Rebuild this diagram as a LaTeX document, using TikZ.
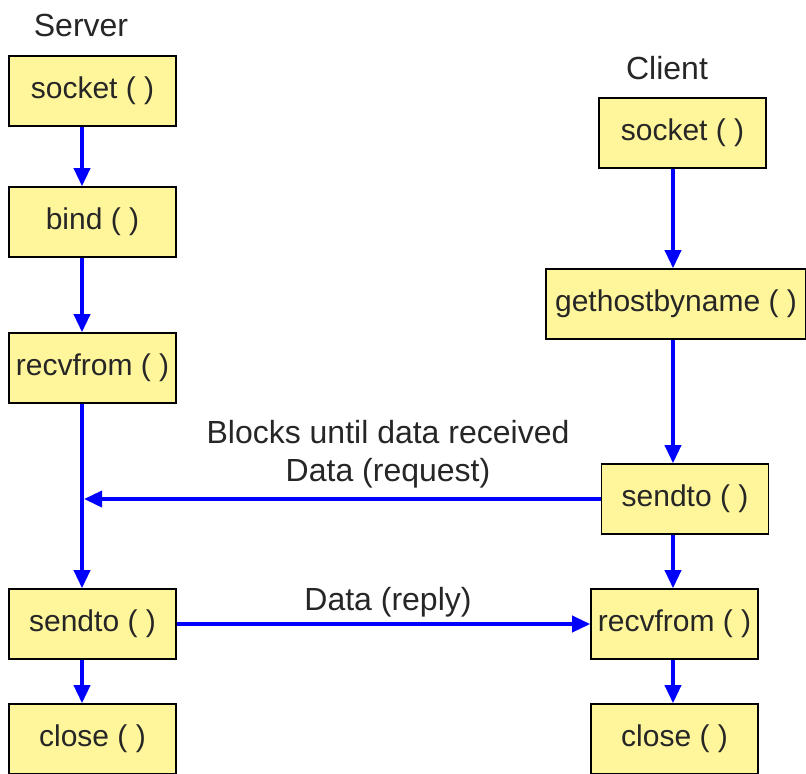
\documentclass[tikz,border=0pt]{standalone}
\usepackage{fontspec}
\setmainfont{Liberation Sans}
\usetikzlibrary{arrows.meta}
\definecolor{boxyellow}{RGB}{255,246,155}
\definecolor{flowblue}{RGB}{0,0,255}
\begin{document}
\begin{tikzpicture}[x=0.5pt,y=-0.5pt,
    call/.style={draw=black,line width=0.8pt,fill=boxyellow,minimum width=83.5pt,
      minimum height=35pt,inner sep=0pt,font=\fontsize{15}{18}\selectfont,text=black!85},
    flow/.style={draw=flowblue,line width=1.8pt,-{Triangle[length=9pt,width=8pt]}},
    lbl/.style={font=\fontsize{16}{19}\selectfont,text=black!85}]
  \useasboundingbox (0,0) rectangle (806,773);
  % server side
  \node[lbl] (server) at (81,25) {Server};
  \node[call] (ssocket) at (92.5,91) {socket ( )};
  \node[call] (sbind) at (92.5,222) {bind ( )};
  \node[call] (srecv) at (92.5,368) {recvfrom ( )};
  \node[call] (ssend) at (92.5,624) {sendto ( )};
  \node[call] (sclose) at (92.5,739) {close ( )};
  % client side
  \node[lbl] (client) at (667,68) {Client};
  \node[call] (csocket) at (682.5,133) {socket ( )};
  \node[call,minimum width=130pt] (cname) at (676,304) {gethostbyname ( )};
  \node[call] (csend) at (685,499) {sendto ( )};
  \node[call] (crecv) at (674.5,624) {recvfrom ( )};
  \node[call] (cclose) at (674.5,739) {close ( )};
  \coordinate (sx) at (82,0);
  \coordinate (cx) at (673,0);
  % flow down each side
  \draw[flow] (ssocket.south -| sx) -- (sbind.north -| sx);
  \draw[flow] (sbind.south -| sx) -- (srecv.north -| sx);
  \draw[flow] (srecv.south -| sx) -- (ssend.north -| sx);
  \draw[flow] (ssend.south -| sx) -- (sclose.north -| sx);
  \draw[flow] (csocket.south -| cx) -- (cname.north -| cx);
  \draw[flow] (cname.south -| cx) -- (csend.north -| cx);
  \draw[flow] (csend.south -| cx) -- (crecv.north -| cx);
  \draw[flow] (crecv.south -| cx) -- (cclose.north -| cx);
  % data between them
  \draw[flow,shorten >=1pt] (csend.west) -- (csend.west -| sx);
  \draw[flow] (ssend.east) -- (crecv.west);
  \node[lbl,align=center] (reqlbl) at (388,454) {Blocks until data received\\Data (request)};
  \node[lbl] (replbl) at (388,602) {Data (reply)};
\end{tikzpicture}
\end{document}
